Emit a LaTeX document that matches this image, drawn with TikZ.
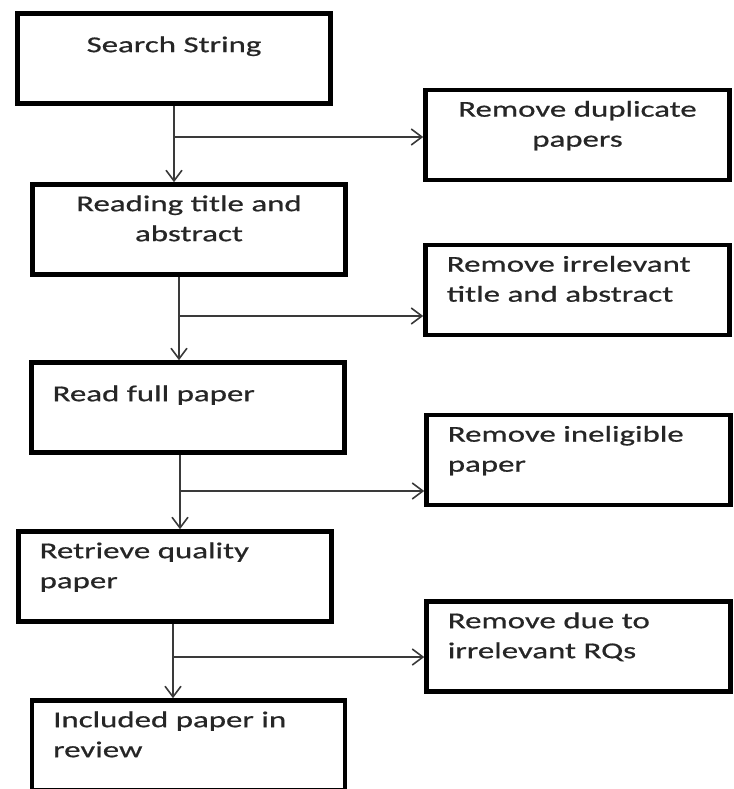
\documentclass[tikz,border=0pt]{standalone}
\usepackage{fontspec}
\setmainfont{Carlito}[FakeStretch=1.45, FakeBold=0.7]
\usepackage{tikz}
\usetikzlibrary{
  arrows.meta
}
\definecolor{InkGray}{HTML}{262626}
\definecolor{LineGray}{HTML}{3A3A3A}
\tikzset{
  % Process box: fixed size, text hung from the top
  stepbox/.style={
    rectangle, draw=black, line width=3.4pt,
    text width=#1, inner xsep=16pt, inner ysep=0pt,
    text height=20pt, text depth=47.5pt,
    font=\fontsize{17}{22.5}\selectfont, text=InkGray
  },
  stepbox/.default=203pt,
  % Boxes on the right: removed papers
  dropbox/.style={stepbox=196pt, align=left},
  % Single line of text sits lower
  oneline/.style={text height=29pt, text depth=38.5pt},
  % Arrow
  flow/.style={
    -{Straight Barb[length=8pt,width=12pt]},
    line width=1.2pt, draw=LineGray
  }
}

\begin{document}
\begin{tikzpicture}[x=0.75pt, y=-0.75pt]

  \useasboundingbox (0,0) rectangle (734,789);
  \clip (0,0) rectangle (734,789);

  % Left column: main steps
  \node[stepbox, align=center, oneline] (ss)  at (174,58.5)   {Search String};
  \node[stepbox, align=center]          (rta) at (189,229.5)  {Reading title and\\abstract};
  \node[stepbox, align=left, oneline]   (rfp) at (188,407.5)  {Read full paper};
  \node[stepbox, align=left]            (rqp) at (175,576.5)  {Retrieve quality\\paper};
  \node[stepbox, align=left]            (inc) at (188.5,745.5) {Included paper in\\review};

  % Right column: papers taken out
  \node[dropbox, align=center] (dup)  at (577.5,135)   {Remove duplicate\\papers};
  \node[dropbox]               (irr)  at (577.5,290)   {Remove irrelevant\\title and abstract};
  \node[dropbox]               (inel) at (578.5,460)   {Remove ineligible\\paper};
  \node[dropbox]               (rdue) at (578.5,646.5) {Remove due to\\irrelevant RQs};

  % Branch points
  \coordinate (j1) at (174,137);
  \coordinate (j2) at (179,316);
  \coordinate (j3) at (180,491);
  \coordinate (j4) at (173,657);

  % Arrows down
  \draw[flow] (ss.south) -- (ss.south |- rta.north);
  \draw[flow] (rta.south -| j2) -- (j2 |- rfp.north);
  \draw[flow] (rfp.south -| j3) -- (j3 |- rqp.north);
  \draw[flow] (rqp.south -| j4) -- (j4 |- inc.north);

  % Arrows to the right
  \draw[flow] (j1) -- (j1 -| dup.west);
  \draw[flow] (j2) -- (j2 -| irr.west);
  \draw[flow] (j3) -- (j3 -| inel.west);
  \draw[flow] (j4) -- (j4 -| rdue.west);

\end{tikzpicture}
\end{document}
